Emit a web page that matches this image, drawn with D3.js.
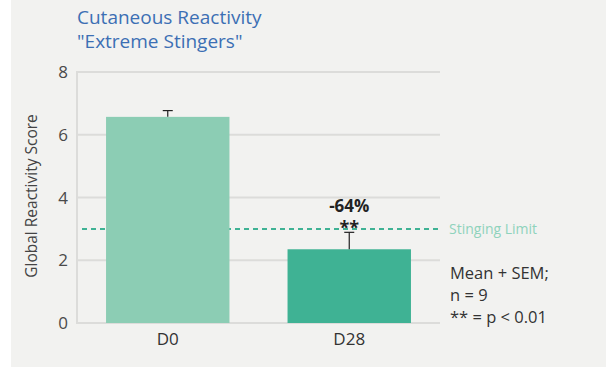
<html>
<head>
<script src="https://d3js.org/d3.v7.min.js"></script>
<style>
  body { margin: 0; background: #fff; font-family: 'Open Sans', sans-serif; }
  .tick-label { font-size: 17px; fill: #4a4a4a; }
  .note { font-size: 16.5px; fill: #333; }
</style>
</head>
<body>
<svg class="vis" width="611" height="371"></svg>
<script>
const days = ["D0", "D28"];
const means = [6.57, 2.35];
const sems = [0.2, 0.54];
const yTicks = [0, 2, 4, 6, 8];
const barColors = ["#8ccdb4", "#3fb294"];
const stingingLimit = 3;
const noteLines = ["Mean + SEM;", "n = 9", "** = p < 0.01"];

const svg = d3.select(".vis");

svg.append("rect")
  .attr("x", 11).attr("y", 0)
  .attr("width", 595).attr("height", 367)
  .attr("fill", "#f2f2f0");

const xs = d3.scaleBand().domain(days).range([77, 440])
  .paddingInner(0.32).paddingOuter(0.16);
const ys = d3.scaleLinear().domain([0, 8]).range([323, 72]);

// grid
svg.selectAll(".grid")
  .data(yTicks)
  .enter().append("line")
  .attr("x1", 77).attr("x2", 440)
  .attr("y1", d => ys(d)).attr("y2", d => ys(d))
  .attr("stroke", "#dcdcda").attr("stroke-width", 2);

svg.append("line")
  .attr("x1", 77).attr("x2", 77)
  .attr("y1", ys(8) - 1).attr("y2", ys(0) + 1)
  .attr("stroke", "#dcdcda").attr("stroke-width", 2);

svg.selectAll(".tick-label")
  .data(yTicks)
  .enter().append("text")
  .attr("class", "tick-label")
  .attr("x", 68).attr("y", d => ys(d) + 6)
  .attr("text-anchor", "end")
  .text(d => d);

// stinging limit
svg.append("line")
  .attr("x1", 82).attr("x2", 440)
  .attr("y1", ys(stingingLimit)).attr("y2", ys(stingingLimit))
  .attr("stroke", "#3fb294").attr("stroke-width", 2)
  .attr("stroke-dasharray", "5,4");

// bars
svg.selectAll(".bar")
  .data(days)
  .enter().append("rect")
  .attr("x", d => xs(d))
  .attr("y", (d, i) => ys(means[i]))
  .attr("width", xs.bandwidth())
  .attr("height", (d, i) => ys(0) - ys(means[i]))
  .attr("fill", (d, i) => barColors[i]);

// error bars
days.forEach((d, i) => {
  const cx = xs(d) + xs.bandwidth() / 2;
  svg.append("line")
    .attr("x1", cx).attr("x2", cx)
    .attr("y1", ys(means[i])).attr("y2", ys(means[i] + sems[i]))
    .attr("stroke", "#222").attr("stroke-width", 1.2);
  svg.append("line")
    .attr("x1", cx - 5).attr("x2", cx + 5)
    .attr("y1", ys(means[i] + sems[i])).attr("y2", ys(means[i] + sems[i]))
    .attr("stroke", "#222").attr("stroke-width", 1.2);
});

svg.selectAll(".xlabel")
  .data(days)
  .enter().append("text")
  .attr("x", d => xs(d) + xs.bandwidth() / 2)
  .attr("y", 345)
  .attr("text-anchor", "middle")
  .attr("font-size", 17).attr("fill", "#333")
  .text(d => d);

const c28 = xs("D28") + xs.bandwidth() / 2;
svg.append("text")
  .attr("x", c28).attr("y", 212)
  .attr("text-anchor", "middle")
  .attr("font-size", 17).attr("font-weight", "bold").attr("fill", "#222")
  .text("-64%");
svg.append("text")
  .attr("x", c28).attr("y", 234)
  .attr("text-anchor", "middle")
  .attr("font-size", 18).attr("font-weight", "bold").attr("fill", "#222")
  .text("**");

svg.append("text")
  .attr("x", 449).attr("y", ys(stingingLimit) + 5)
  .attr("font-size", 14).attr("fill", "#8fd3bc")
  .text("Stinging Limit");

svg.selectAll(".note")
  .data(noteLines)
  .enter().append("text")
  .attr("class", "note")
  .attr("x", 450)
  .attr("y", (d, i) => 279 + i * 22)
  .text(d => d);

svg.append("text")
  .attr("transform", "translate(37,196) rotate(-90)")
  .attr("text-anchor", "middle")
  .attr("font-size", 15.5).attr("fill", "#444")
  .text("Global Reactivity Score");

svg.append("text")
  .attr("x", 77).attr("y", 24)
  .attr("font-size", 19).attr("fill", "#3c6fb4")
  .text("Cutaneous Reactivity");
svg.append("text")
  .attr("x", 77).attr("y", 48)
  .attr("font-size", 19).attr("fill", "#3c6fb4")
  .text("\"Extreme Stingers\"");
</script>
</body>
</html>
